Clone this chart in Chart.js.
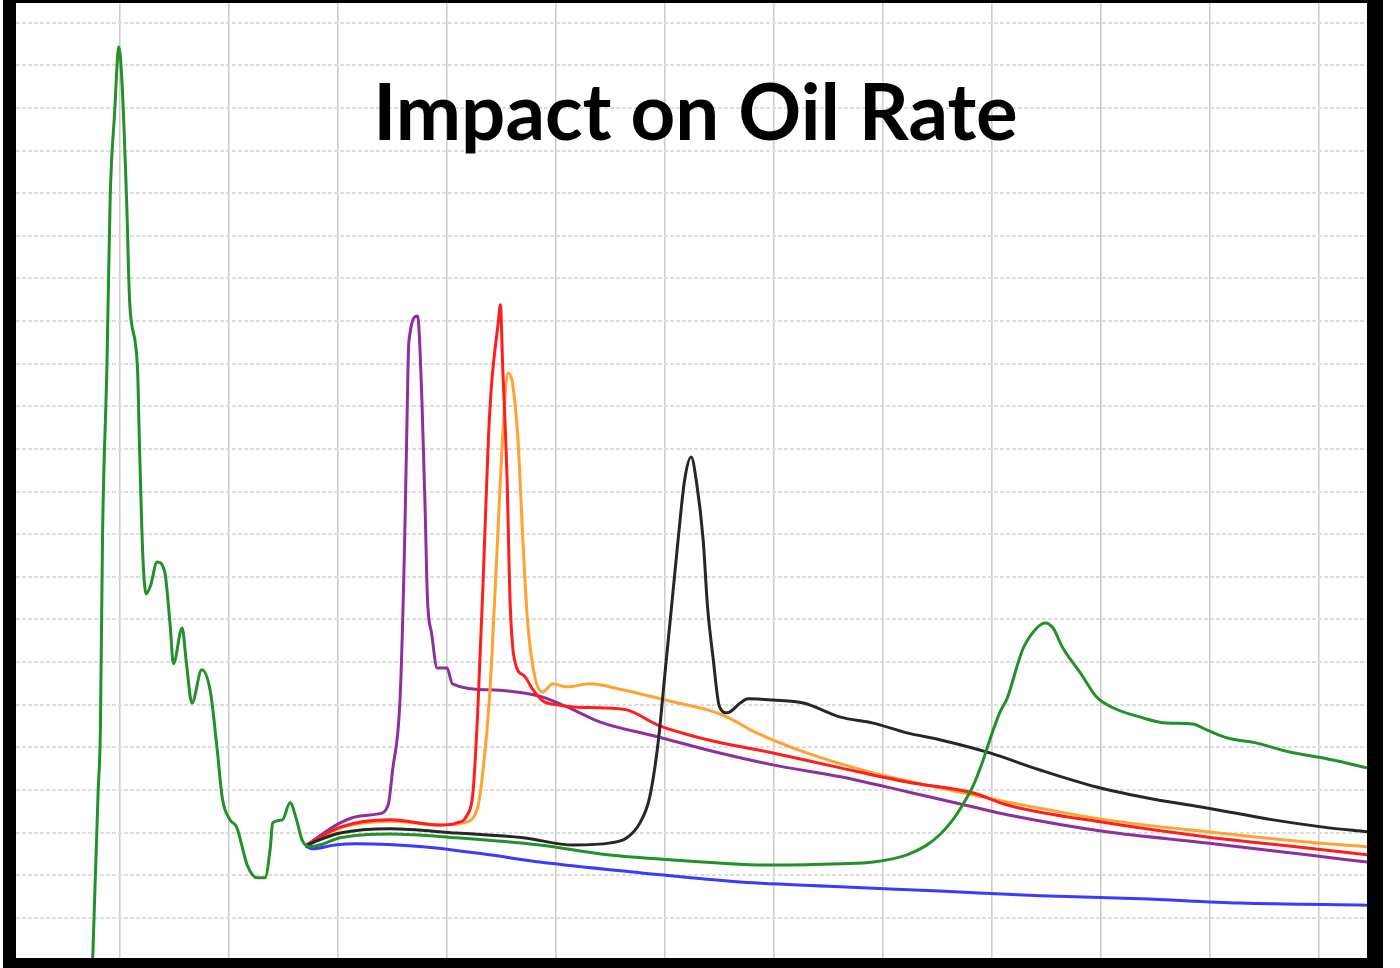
<!DOCTYPE html>
<html>
<head>
<meta charset="utf-8">
<script src="https://cdn.jsdelivr.net/npm/chart.js@4.4.1/dist/chart.umd.min.js"></script>
<style>
  html, body { margin: 0; padding: 0; background: #ffffff; }
  #frame {
    position: absolute; left: 3px; top: 0px;
    width: 1351px; height: 955px;
    border-left: 13px solid #000; border-right: 16px solid #000;
    border-top: 3px solid #000; border-bottom: 10px solid #000;
    background: #fff;
  }
  #c { display: block; }
</style>
</head>
<body>
<div id="frame"><canvas id="c" width="1351" height="955"></canvas></div>
<script>
const chartTitle = "Impact on Oil Rate";

// Time axis (arbitrary units, one grid step = 100) and rate values (one grid step = 100)
const greenTime = [75,80,82,84,88,91,95,99,102,106,109,116,118,121,124,128,134,141,146,149,157,161,166,175,183,189,194,201,207,217,226,233,238,240,249,256,262,267,274,283,302,348,409,485,547,607,699,761,791,822,839,852,864,873,883,892,898,907,914,928,941,949,956,965,981,996,1011,1036,1060,1084,1097,1116,1143,1173,1204,1244];
const greenRate = [6,400,539,998,1393,1789,1986,2143,2052,1789,1538,1393,1196,947,860,879,935,912,787,696,780,696,604,682,630,499,379,330,313,222,194,194,267,323,330,370,330,283,267,271,288,297,288,271,248,236,224,227,231,248,269,295,330,365,412,471,518,581,616,729,780,792,780,733,675,618,593,571,557,555,541,522,510,489,475,452];

const blueTime = [270,277,297,317,378,439,485,577,669,761,852,944,1036,1127,1244];
const blueRate = [269,262,271,274,267,248,231,206,184,173,163,152,145,135,130];

const blackTime = [270,283,302,348,409,470,516,550,565,577,586,594,600,606,612,618,624,629,635,639,644,650,657,669,676,699,727,761,791,822,852,898,944,996,1051,1097,1158,1204,1244];
const blackRate = [269,283,299,309,299,288,271,276,288,323,384,518,675,830,987,1127,1181,1120,987,830,712,595,581,604,614,611,604,571,557,534,518,487,447,407,377,358,330,313,302];

const purpleTime = [270,274,302,320,337,346,350,357,361,363,365,373,377,380,382,386,391,400,405,439,476,490,516,540,593,639,699,761,822,883,914,1005,1097,1189,1244];
const purpleRate = [269,276,323,339,344,365,445,618,966,1226,1451,1512,1313,1052,853,766,686,686,649,635,625,616,588,560,525,494,459,431,396,360,342,302,276,248,231];

const redTime = [270,302,348,394,409,418,424,428,433,438,441,447,449,451,455,458,464,470,479,488,501,516,540,565,593,639,699,761,822,883,914,1005,1097,1189,1244];
const redRate = [269,313,330,318,323,339,400,574,879,1226,1355,1496,1538,1400,1139,834,686,670,635,609,600,595,593,588,553,518,487,452,419,393,365,323,290,264,248];

const orangeTime = [270,302,348,394,415,428,433,439,446,451,456,460,465,470,474,481,488,497,510,531,561,607,639,657,684,730,791,852,914,1005,1097,1189,1244];
const orangeRate = [269,311,327,318,323,358,445,618,966,1226,1378,1355,1226,966,792,661,630,649,642,649,635,607,588,571,534,487,440,405,372,330,302,278,267];

const xMin = 4.6, xMax = 1244, yMin = 6, yMax = 2246;

function pts(xs, ys) { return xs.map((x, i) => ({ x: x, y: ys[i] })); }

const series = [
  { label: 'Green',  t: greenTime,  r: greenRate,  color: '#23902a' },
  { label: 'Black',  t: blackTime,  r: blackRate,  color: '#262626' },
  { label: 'Red',    t: redTime,    r: redRate,    color: '#ff1e1e' },
  { label: 'Orange', t: orangeTime, r: orangeRate, color: '#ffa22e' },
  { label: 'Purple', t: purpleTime, r: purpleRate, color: '#8e2f9e' },
  { label: 'Blue',   t: blueTime,   r: blueRate,   color: '#3b3bff' }
];

const titlePlugin = {
  id: 'insideTitle',
  afterDatasetsDraw(chart) {
    const { ctx, chartArea } = chart;
    ctx.save();
    ctx.font = 'bold 78px Lato, "Open Sans", sans-serif';
    ctx.fillStyle = '#000';
    ctx.textAlign = 'center';
    ctx.textBaseline = 'alphabetic';
    ctx.fillText(chartTitle, (chartArea.left + chartArea.right) / 2 + 4, chartArea.top + 137);
    ctx.restore();
  }
};

function keepGrid(step) {
  return function (scale) {
    scale.ticks = scale.ticks.filter(t => Math.abs(t.value / step - Math.round(t.value / step)) < 1e-6 && t.value > scale.min && t.value < scale.max);
  };
}

new Chart(document.getElementById('c'), {
  type: 'line',
  data: {
    datasets: series.map(s => ({
      label: s.label,
      data: pts(s.t, s.r),
      borderColor: s.color,
      backgroundColor: s.color,
      borderWidth: 3,
      pointRadius: 0,
      fill: false,
      tension: 0,
      cubicInterpolationMode: 'monotone'
    }))
  },
  options: {
    responsive: false,
    animation: false,
    devicePixelRatio: 1,
    layout: { padding: 0 },
    plugins: { legend: { display: false }, tooltip: { enabled: false }, title: { display: false } },
    scales: {
      x: {
        type: 'linear', min: xMin, max: xMax,
        ticks: { display: false, stepSize: 100 },
        afterBuildTicks: keepGrid(100),
        grid: { color: '#cdcdcd', lineWidth: 1.6, drawTicks: false },
        border: { display: false }
      },
      y: {
        type: 'linear', min: yMin, max: yMax,
        ticks: { display: false, stepSize: 100 },
        afterBuildTicks: keepGrid(100),
        grid: { color: '#dedede', lineWidth: 2, drawTicks: false },
        border: { display: false, dash: [4, 2] }
      }
    }
  },
  plugins: [titlePlugin]
});
</script>
</body>
</html>
